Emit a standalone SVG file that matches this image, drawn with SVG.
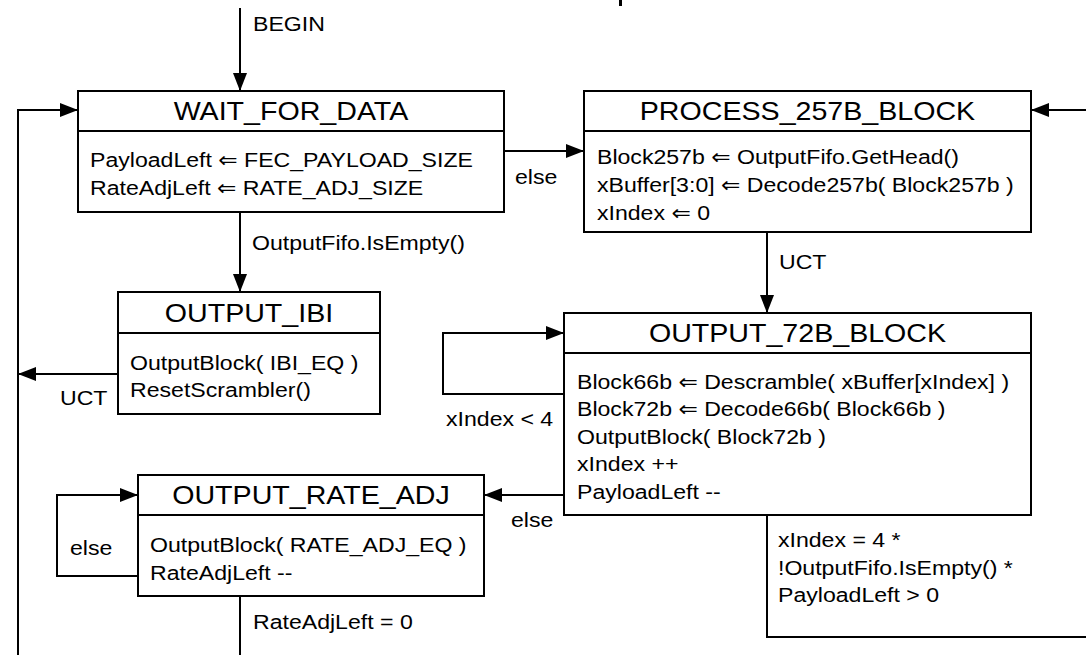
<svg xmlns="http://www.w3.org/2000/svg" width="1086" height="655" viewBox="0 0 1086 655">
<style>
.box{fill:#fff;stroke:#000;stroke-width:2}
.div{stroke:#000;stroke-width:2}
.c{fill:none;stroke:#000;stroke-width:2}
text{font-family:"Liberation Sans",Arial,"DejaVu Sans",sans-serif;fill:#000}
.h{font-size:26px;text-anchor:middle;transform-box:fill-box;transform-origin:center;transform:scaleX(1.1)}
.b{font-size:21px;transform-box:fill-box;transform-origin:left center;transform:scaleX(1.1)}
</style>
<defs>
<marker id="ah" markerUnits="userSpaceOnUse" markerWidth="18" markerHeight="14" refX="18" refY="7" orient="auto">
<path d="M0,0 L18,7 L0,14 z" fill="#000"/>
</marker>
</defs>
<rect width="1086" height="655" fill="#fff"/>
<rect x="619" y="0" width="3" height="6" fill="#000"/>

<g id="connectors">
<path class="c" d="M240,8 V91" marker-end="url(#ah)"/>
<path class="c" d="M18,655 V110 H78" marker-end="url(#ah)"/>
<path class="c" d="M504,151 H584" marker-end="url(#ah)"/>
<path class="c" d="M240,212 V292" marker-end="url(#ah)"/>
<path class="c" d="M118,374 H18" marker-end="url(#ah)"/>
<path class="c" d="M767,232 V313" marker-end="url(#ah)"/>
<path class="c" d="M1086,110 H1031" marker-end="url(#ah)"/>
<path class="c" d="M564,394 H443 V333 H564" marker-end="url(#ah)"/>
<path class="c" d="M564,495 H484" marker-end="url(#ah)"/>
<path class="c" d="M138,576 H57 V495 H138" marker-end="url(#ah)"/>
<path class="c" d="M240,596 V655"/>
<path class="c" d="M767,515 V637 H1086"/>
<text class="b" x="253" y="31.5">BEGIN</text>
<text class="b" x="515" y="184">else</text>
<text class="b" x="252" y="250.5">OutputFifo.IsEmpty()</text>
<text class="b" x="779" y="269">UCT</text>
<text class="b" x="60" y="405.5">UCT</text>
<text class="b" x="446" y="425.5">xIndex &lt; 4</text>
<text class="b" x="511" y="527.5">else</text>
<text class="b" x="70" y="555.5">else</text>
<text class="b" x="253" y="629">RateAdjLeft = 0</text>
<text class="b" x="778" y="547.5">xIndex = 4 *</text>
<text class="b" x="778" y="575.5">!OutputFifo.IsEmpty() *</text>
<text class="b" x="778" y="602.5">PayloadLeft &gt; 0</text>
</g>

<g id="wait_for_data">
<rect class="box" x="78" y="91" width="426" height="121"/>
<line class="div" x1="78" y1="131" x2="504" y2="131"/>
<text class="h" x="291" y="120">WAIT_FOR_DATA</text>
<text class="b" x="90" y="167.5">PayloadLeft ⇐ FEC_PAYLOAD_SIZE</text>
<text class="b" x="90" y="195.5">RateAdjLeft ⇐ RATE_ADJ_SIZE</text>
</g>

<g id="process_257b_block">
<rect class="box" x="584" y="91" width="447" height="141"/>
<line class="div" x1="584" y1="131" x2="1031" y2="131"/>
<text class="h" x="807.5" y="120">PROCESS_257B_BLOCK</text>
<text class="b" x="597" y="164.5">Block257b ⇐ OutputFifo.GetHead()</text>
<text class="b" x="597" y="192.5">xBuffer[3:0] ⇐ Decode257b( Block257b )</text>
<text class="b" x="597" y="220">xIndex ⇐ 0</text>
</g>

<g id="output_ibi">
<rect class="box" x="118" y="292" width="262" height="122"/>
<line class="div" x1="118" y1="333" x2="380" y2="333"/>
<text class="h" x="249" y="322">OUTPUT_IBI</text>
<text class="b" x="130" y="370.5">OutputBlock( IBI_EQ )</text>
<text class="b" x="130" y="397.5">ResetScrambler()</text>
</g>

<g id="output_72b_block">
<rect class="box" x="564" y="313" width="467" height="202"/>
<line class="div" x1="564" y1="353" x2="1031" y2="353"/>
<text class="h" x="797.5" y="342">OUTPUT_72B_BLOCK</text>
<text class="b" x="577" y="389">Block66b ⇐ Descramble( xBuffer[xIndex] )</text>
<text class="b" x="577" y="416.5">Block72b ⇐ Decode66b( Block66b )</text>
<text class="b" x="577" y="444">OutputBlock( Block72b )</text>
<text class="b" x="577" y="471.5">xIndex ++</text>
<text class="b" x="577" y="499">PayloadLeft --</text>
</g>

<g id="output_rate_adj">
<rect class="box" x="138" y="475" width="346" height="121"/>
<line class="div" x1="138" y1="515" x2="484" y2="515"/>
<text class="h" x="311" y="504">OUTPUT_RATE_ADJ</text>
<text class="b" x="150" y="552.5">OutputBlock( RATE_ADJ_EQ )</text>
<text class="b" x="150" y="580.5">RateAdjLeft --</text>
</g>
</svg>
